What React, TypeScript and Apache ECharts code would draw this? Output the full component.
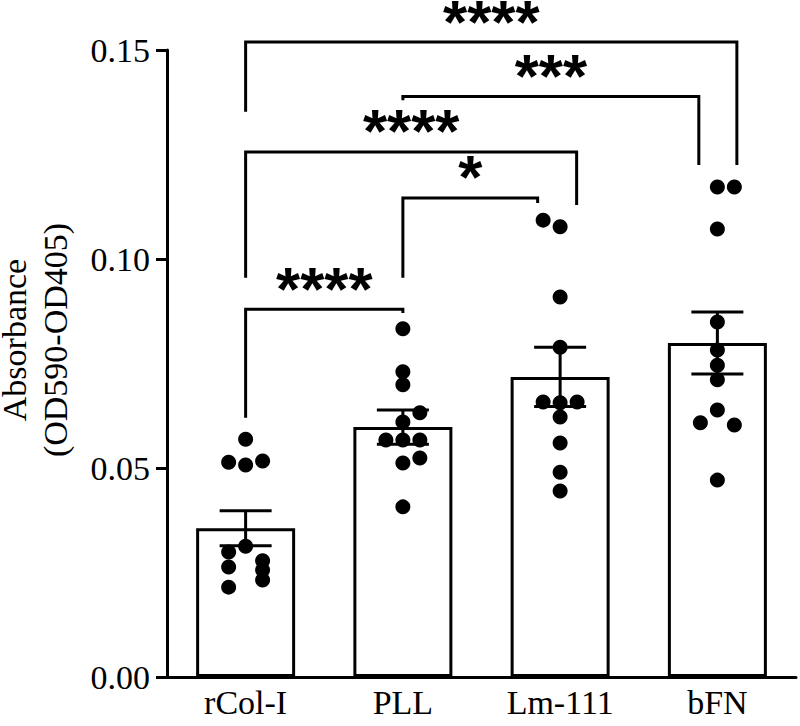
import React, { useEffect, useRef } from "react";
import * as echarts from "echarts";

const categories = ["rCol-I", "PLL", "Lm-111", "bFN"];
const means = [0.0356, 0.0598, 0.0718, 0.0799];
const sems = [0.0042, 0.0041, 0.0071, 0.0074];

const rColIValues = [0.0569, 0.0514, 0.0507, 0.0517, 0.0313, 0.0299, 0.0263, 0.0215, 0.0278, 0.0256, 0.0232];
const rColILanes = [0, -1, 0, 1, 0, -1, -1, -1, 1, 1, 1];
const pllValues = [0.0833, 0.073, 0.0699, 0.0632, 0.061, 0.0567, 0.0567, 0.0567, 0.0512, 0.0524, 0.0407];
const pllLanes = [0, 0, 0, 1, 0, -1, 0, 1, 0, 1, 0];
const lmValues = [0.1093, 0.1077, 0.0909, 0.0789, 0.0658, 0.0656, 0.0658, 0.0622, 0.056, 0.049, 0.0445];
const lmLanes = [-1, 0, 0, 0, -1, 0, 1, 0, 0, 0, 0];
const bfnValues = [0.1172, 0.1172, 0.1072, 0.0849, 0.0782, 0.0746, 0.0711, 0.0639, 0.0608, 0.0603, 0.0471];
const bfnLanes = [0, 1, 0, 0, 0, 0, 0, 0, -1, 1, 0];

const groupValues = [rColIValues, pllValues, lmValues, bfnValues];
const groupLanes = [rColILanes, pllLanes, lmLanes, bfnLanes];

const yTicks = [0, 0.05, 0.1, 0.15];
const yTitleLines = ["Absorbance", "(OD590-OD405)"];

// comparisons: from category, to category, bracket height, end height at "from", end height at "to"
const bracketFrom = [0, 1, 0, 1, 0];
const bracketTo = [3, 3, 2, 2, 1];
const bracketLine = [0.1519, 0.1389, 0.1256, 0.1146, 0.088];
const bracketFromEnd = [0.1352, 0.138, 0.0955, 0.0955, 0.062];
const bracketToEnd = [0.1225, 0.1225, 0.1129, 0.1134, 0.0871];
const bracketLabels = ["****", "***", "****", "*", "****"];

// horizontal nudges of the bracket ends (layout)
const toNudge = [0.124, -0.118, 0.105, -0.143, 0];
const LANE = 0.108;

export default function App() {
  const ref = useRef<HTMLDivElement>(null);
  useEffect(() => {
    document.body.style.margin = "0";
    const chart = echarts.init(ref.current!, null, { renderer: "svg" });
    const serif = '"Liberation Serif", "Times New Roman", serif';

    const scatterData: number[][] = [];
    groupValues.forEach((vals, g) => {
      vals.forEach((v, k) => scatterData.push([g + groupLanes[g][k] * LANE, v]));
    });

    const bracketData = bracketFrom.map((f, i) => [
      f,
      bracketTo[i] + toNudge[i],
      bracketLine[i],
      bracketFromEnd[i],
      bracketToEnd[i],
    ]);

    const titleX = [14, 55];

    chart.setOption({
      animation: false,
      grid: { left: 167, right: 4, top: 50, bottom: 49, containLabel: false },
      xAxis: [
        {
          type: "category",
          data: categories,
          axisLine: { onZero: false, lineStyle: { color: "#000", width: 3 } },
          axisTick: { alignWithLabel: true, length: 11, lineStyle: { color: "#000", width: 3 } },
          axisLabel: { color: "#000", fontSize: 34, fontFamily: serif, margin: 8 },
          splitLine: { show: false },
        },
        { type: "value", min: -0.5, max: 3.5, show: false },
      ],
      yAxis: {
        type: "value",
        min: 0,
        max: 0.15,
        interval: 0.05,
        axisLine: { show: true, onZero: false, lineStyle: { color: "#000", width: 3 } },
        axisTick: { show: true, length: 11, lineStyle: { color: "#000", width: 3 } },
        axisLabel: {
          color: "#000",
          fontSize: 34,
          fontFamily: serif,
          margin: 17,
          formatter: (v: number) => v.toFixed(2),
          customValues: yTicks,
        },
        splitLine: { show: false },
      },
      graphic: yTitleLines.map((t, i) => ({
        type: "text",
        x: titleX[i],
        y: 340,
        rotation: Math.PI / 2,
        style: {
          text: t,
          font: `34px ${serif}`,
          fill: "#000",
          align: "center",
          verticalAlign: "middle",
          lineHeight: 26,
        },
      })),
      series: [
        {
          type: "bar",
          xAxisIndex: 0,
          data: means,
          barWidth: 99,
          itemStyle: { color: "#fff", borderColor: "#000", borderWidth: 3 },
          z: 1,
        },
        {
          type: "custom",
          xAxisIndex: 1,
          data: means.map((m, i) => [i, m, sems[i]]),
          z: 2,
          renderItem: (params: any, api: any) => {
            const x = api.value(0);
            const m = api.value(1);
            const s = api.value(2);
            const top = api.coord([x, m + s]);
            const bot = api.coord([x, m - s]);
            const half = 26;
            const st = { stroke: "#000", lineWidth: 3 };
            return {
              type: "group",
              children: [
                { type: "line", shape: { x1: top[0], y1: top[1], x2: bot[0], y2: bot[1] }, style: st },
                { type: "line", shape: { x1: top[0] - half, y1: top[1], x2: top[0] + half, y2: top[1] }, style: st },
                { type: "line", shape: { x1: bot[0] - half, y1: bot[1], x2: bot[0] + half, y2: bot[1] }, style: st },
              ],
            };
          },
        },
        {
          type: "scatter",
          xAxisIndex: 1,
          data: scatterData,
          symbol: "circle",
          symbolSize: 15,
          itemStyle: { color: "#000", opacity: 1 },
          z: 3,
        },
        {
          type: "custom",
          xAxisIndex: 1,
          clip: false,
          data: bracketData,
          z: 4,
          renderItem: (params: any, api: any) => {
            const x1 = api.value(0);
            const x2 = api.value(1);
            const yl = api.value(2);
            const a = api.coord([x1, api.value(3)]);
            const b = api.coord([x1, yl]);
            const c = api.coord([x2, yl]);
            const d = api.coord([x2, api.value(4)]);
            return {
              type: "group",
              children: [
                {
                  type: "polyline",
                  shape: { points: [a, b, c, d] },
                  style: { stroke: "#000", lineWidth: 3, fill: null, lineJoin: "miter" },
                },
                {
                  type: "text",
                  x: (b[0] + c[0]) / 2,
                  y: b[1] - 21,
                  style: {
                    text: bracketLabels[params.dataIndex],
                    font: 'bold 62px "Liberation Sans", Arial, sans-serif',
                    fill: "#000",
                    align: "center",
                    verticalAlign: "middle",
                    lineHeight: 24,
                  },
                },
              ],
            };
          },
        },
      ],
    });
    return () => chart.dispose();
  }, []);
  return <div ref={ref} style={{ width: 800, height: 726 }} />;
}
